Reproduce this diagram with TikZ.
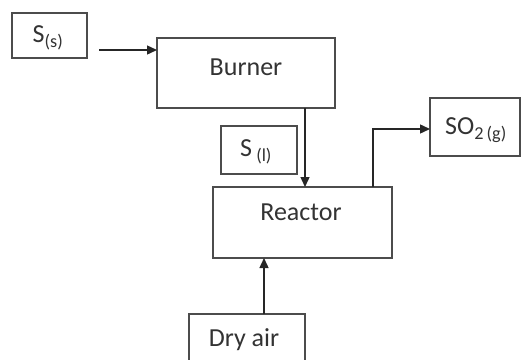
\documentclass[tikz,border=0pt]{standalone}
\usepackage{fontspec}
\setmainfont{Carlito}
\usetikzlibrary{arrows.meta}
\begin{document}
\begin{tikzpicture}[x=1pt,y=-1pt,
  box/.style={draw=black!70,line width=1.4pt},
  lbl/.style={font=\fontsize{26}{30}\selectfont,text=black!80,inner sep=0pt},
  flow/.style={draw=black!85,line width=1.4pt,-{Triangle[length=10pt,width=9pt]}}]
\useasboundingbox (0,0) rectangle (522,359);
\fill[white] (0,0) rectangle (522,359);
\draw[box] (12,13) rectangle (87,58);
\draw[box] (157,38) rectangle (335,108);
\draw[box] (221,126) rectangle (297,174);
\draw[box] (213,187) rectangle (392,258);
\draw[box] (430,98) rectangle (520,156);
\draw[box] (189,314) rectangle (305,362);
\node[lbl] (ss) at (48,38) {S\textsubscript{(s)}};
\node[lbl] (burner) at (246,67) {Burner};
\node[lbl] (sl) at (256,152) {S\,\textsubscript{(l)}};
\node[lbl] (reactor) at (301,212) {Reactor};
\node[lbl] (so2) at (476,130) {SO\textsubscript{2\,(g)}};
\node[lbl] (air) at (244,340) {Dry air};
\coordinate (a1) at (99,50);
\coordinate (a2) at (157,50);
\coordinate (b1) at (305,108);
\coordinate (b2) at (305,187);
\coordinate (c1) at (373,187);
\coordinate (c2) at (430,129);
\coordinate (d1) at (264,314);
\coordinate (d2) at (264,258);
\draw[flow] (a1) -- (a2);
\draw[flow] (b1) -- (b2);
\draw[flow] (c1) |- (c2);
\draw[flow] (d1) -- (d2);
\end{tikzpicture}
\end{document}
